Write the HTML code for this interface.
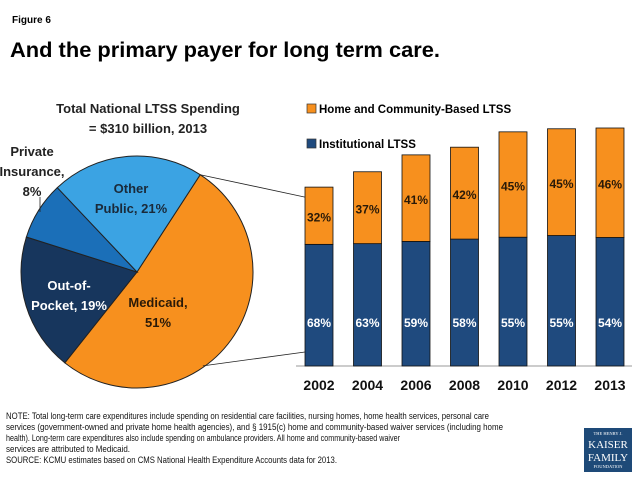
<!DOCTYPE html>
<html><head><meta charset="utf-8"><style>
html,body{margin:0;padding:0;background:#fff;}
svg{display:block;font-family:"Liberation Sans",sans-serif;}
</style></head><body>
<svg id="chart" width="638" height="479" viewBox="0 0 638 479">
<text x="12" y="23" font-size="10" font-weight="bold">Figure 6</text>
<text x="10" y="57" font-size="21.5" font-weight="bold" textLength="430" lengthAdjust="spacingAndGlyphs">And the primary payer for long term care.</text>
<text x="148" y="113" font-size="13" font-weight="bold" text-anchor="middle" fill="#222">Total National LTSS Spending</text>
<text x="148" y="133" font-size="13" font-weight="bold" text-anchor="middle" fill="#222">= $310 billion, 2013</text>
<g id="pie"></g>
<g id="bars"></g>
<g>
<rect x="307" y="104" width="9" height="9" fill="#F7901E" stroke="#333" stroke-width="0.7"/>
<text x="319" y="113" font-size="11.5" font-weight="bold">Home and Community-Based LTSS</text>
<rect x="307" y="139" width="9" height="9" fill="#1F4A7E" stroke="#333" stroke-width="0.7"/>
<text x="319" y="148" font-size="11.5" font-weight="bold">Institutional LTSS</text>
</g>
<g font-size="9.6" fill="#111">
<text x="6" y="419" textLength="483" lengthAdjust="spacingAndGlyphs">NOTE: Total long-term care expenditures include spending on residential care facilities, nursing homes, home health services, personal care</text>
<text x="6" y="430" textLength="497" lengthAdjust="spacingAndGlyphs">services (government-owned and private home health agencies), and § 1915(c) home and community-based waiver services (including home</text>
<text x="6" y="441" textLength="394" lengthAdjust="spacingAndGlyphs">health). Long-term care expenditures also include spending on ambulance providers. All home and community-based waiver</text>
<text x="6" y="452" textLength="124" lengthAdjust="spacingAndGlyphs">services are attributed to Medicaid.</text>
<text x="6" y="463" textLength="331" lengthAdjust="spacingAndGlyphs">SOURCE: KCMU estimates based on CMS National Health Expenditure Accounts data for 2013.</text>
</g>
<g>
<rect x="584" y="428" width="48" height="44" fill="#1E4A78"/>
<text x="608" y="435" font-size="4.5" fill="#fff" text-anchor="middle" font-family="Liberation Serif,serif">THE HENRY J.</text>
<text x="608" y="448" font-size="11" fill="#fff" text-anchor="middle" font-family="Liberation Serif,serif">KAISER</text>
<text x="608" y="461" font-size="11" fill="#fff" text-anchor="middle" font-family="Liberation Serif,serif">FAMILY</text>
<text x="608" y="468" font-size="4.5" fill="#fff" text-anchor="middle" font-family="Liberation Serif,serif">FOUNDATION</text>
</g>
</svg>
<script>
const NS="http://www.w3.org/2000/svg";
const pieLabels=["Medicaid","Out-of-Pocket","Private Insurance","Other Public"];
const pieValues=[51,19,8,21];
const years=["2002","2004","2006","2008","2010","2012","2013"];
const totals=[233,253,275,285,305,309,310];
const instPct=[68,63,59,58,55,55,54];
const hcbsPct=[32,37,41,42,45,45,46];

function mk(tag,attrs,parent){const e=document.createElementNS(NS,tag);for(const k in attrs)e.setAttribute(k,attrs[k]);parent.appendChild(e);return e;}

// Pie
const pie=document.getElementById('pie');
const cx=137,cy=272,R=116,startDeg=33;
const pieColors=["#F7901E","#17365D","#1B6FB8","#3BA3E3"];
const sum=pieValues.reduce((a,b)=>a+b,0);
let ang=startDeg;
function pt(a,r){const t=a*Math.PI/180;return [cx+r*Math.sin(t),cy-r*Math.cos(t)];}
const angles=[];
pieValues.forEach((v,i)=>{
  const sweep=v/sum*360;const a0=ang,a1=ang+sweep;angles.push([a0,a1]);
  const p0=pt(a0,R),p1=pt(a1,R);
  const p=mk('path',{d:`M${cx},${cy} L${p0[0]},${p0[1]} A${R},${R} 0 ${sweep>180?1:0} 1 ${p1[0]},${p1[1]} Z`,fill:pieColors[i],stroke:"#222","stroke-width":1},pie);
  
  
  ang=a1;
});
function lbl(lines,x,y,fill,name){
  lines.forEach((s,k)=>{const t=mk('text',{x:x,y:y+k*20,"font-size":13,"font-weight":"bold","text-anchor":"middle",fill:fill},pie);t.textContent=s;
  
  });
}
lbl(["Medicaid,",pieValues[0]+"%"],158,307,"#2a1a08","pie-label-medicaid");
lbl(["Out-of-","Pocket, "+pieValues[1]+"%"],69,290,"#fff","pie-label-out-of-pocket");
lbl(["Private","Insurance,",pieValues[2]+"%"],32,156,"#222","pie-label-private-insurance");
lbl(["Other","Public, "+pieValues[3]+"%"],131,193,"#1a2a3a","pie-label-other-public");
const ll=mk('line',{x1:40,y1:197,x2:40,y2:212,stroke:"#222","stroke-width":0.8},pie);



// Bars
const bars=document.getElementById('bars');
const base=366,x0=305,pitch=48.5,bw=28,scale=238/310;
const yv=v=>base-v*scale;
const ax=mk('line',{x1:296,y1:base,x2:632,y2:base,stroke:"#999","stroke-width":1},bars);


years.forEach((y,i)=>{
  const x=x0+i*pitch;const tot=totals[i];const inst=tot*instPct[i]/100;
  const r1=mk('rect',{x:x,y:yv(inst),width:bw,height:base-yv(inst),fill:"#1F4A7E",stroke:"#111","stroke-width":0.8},bars);
  
  
  const r2=mk('rect',{x:x,y:yv(tot),width:bw,height:yv(inst)-yv(tot),fill:"#F7901E",stroke:"#111","stroke-width":0.8},bars);
  
  
  const t1=mk('text',{x:x+bw/2,y:327,"font-size":12,"font-weight":"bold","text-anchor":"middle",fill:"#fff"},bars);t1.textContent=instPct[i]+"%";
  
  
  const ym=(yv(tot)+yv(inst))/2+6;
  const t2=mk('text',{x:x+bw/2,y:ym,"font-size":12,"font-weight":"bold","text-anchor":"middle",fill:"#2a1a08"},bars);t2.textContent=hcbsPct[i]+"%";
  
  
  const t3=mk('text',{x:x+bw/2,y:390,"font-size":14,"font-weight":"bold","text-anchor":"middle",fill:"#111"},bars);t3.textContent=y;
  
  
});
// connectors from Medicaid slice to first bar
const pa=pt(angles[0][0],R),pb=pt(angles[0][1],R);
const c1=mk('line',{x1:pa[0],y1:pa[1],x2:x0,y2:yv(totals[0])+10,stroke:"#222","stroke-width":0.8},bars);


const c2=mk('line',{x1:pb[0]+138,y1:pb[1]+3,x2:x0,y2:base-14,stroke:"#222","stroke-width":0.8},bars);


</script>
</body></html>
